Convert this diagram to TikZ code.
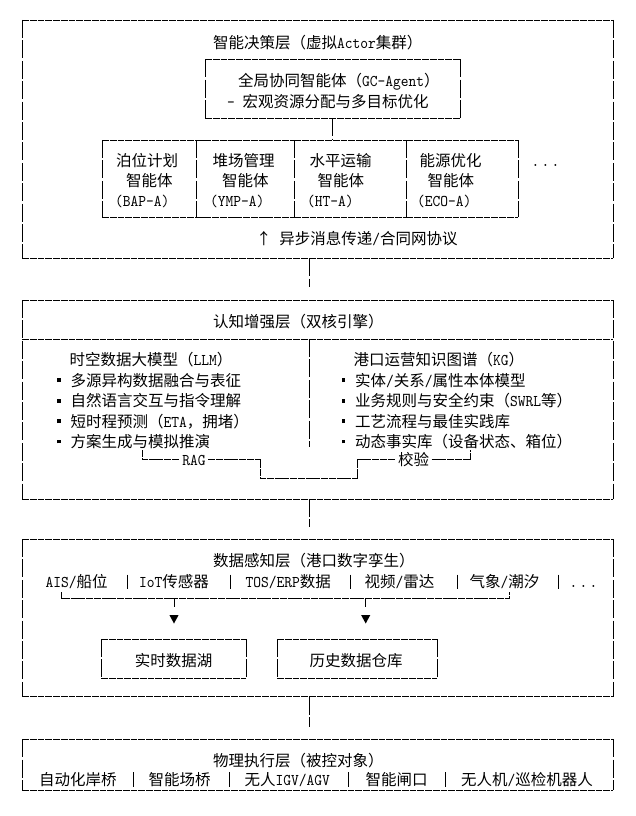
\documentclass[tikz,border=0pt]{standalone}
\usepackage{fontspec}
\setmainfont{Noto Sans CJK SC}
\newfontfamily\latf[FakeStretch=0.9]{lmmono10-regular.otf}
\usetikzlibrary{calc}
\newcommand\lat[1]{{\latf\fontsize{16.4pt}{18pt}\selectfont #1}}
\newcommand\hsp{\hspace{7.75pt}}
\newcommand\bul{\makebox[7.75pt]{\rule[4.1pt]{3.8pt}{3.8pt}}\hspace{7.75pt}}
\newcommand\tdots{\lat{.}\hspace{2.25pt}\lat{.}\hspace{2.25pt}\lat{.}}
\newcommand\frameit[1]{%
  \draw[hd] (#1.north west) -- (#1.north east) (#1.south west) -- (#1.south east);
  \draw[vd] (#1.north west) -- (#1.south west) (#1.north east) -- (#1.south east);}
\newcommand\mkbox[5]{%
  \node[bx, minimum width={#4-#2}, minimum height={#5-#3}] (#1) at ({(#2+#4)/2},{(#3+#5)/2}) {};
  \frameit{#1}}
\begin{document}
\begin{tikzpicture}[x=1pt,y=-1pt,
  hd/.style={line width=0.9pt, dash pattern=on 6.95pt off 0.8pt},
  vd/.style={line width=0.9pt, dash pattern=on 18pt off 2.4pt},
  sl/.style={line width=0.9pt},
  bx/.style={draw=none, inner sep=0pt, outer sep=0pt},
  txt/.style={inner sep=0pt, anchor=west, font=\fontsize{15.5pt}{18pt}\selectfont, text height=13pt, text depth=1.2pt},
  lbl/.style={txt, anchor=center, inner xsep=2.5pt}]
\useasboundingbox (0,0) rectangle (635,816);
\coordinate (cx) at (309.3,0);

% ---------- layer 1 ----------
\mkbox{L1}{22}{20}{613}{258.3}
\node[txt] (t1) at (213,42.7) {智能决策层（虚拟\lat{Actor}集群）};
\mkbox{GC}{205}{59.3}{460}{118.3}
\node[txt] (gc1) at (238,80.7) {全局协同智能体（\lat{GC-Agent}）};
\node[txt] (gc2) at (227,101.7) {\lat{-}\hsp 宏观资源分配与多目标优化};
\mkbox{A1}{102}{140}{196.7}{217}
\mkbox{A2}{196.7}{140}{294}{217}
\mkbox{A3}{294}{140}{406}{217}
\mkbox{A4}{406}{140}{518}{217}
\draw[vd] (GC.south) -- (GC.south |- A3.north);
\node[txt] (a11) at (116,160.5) {泊位计划};
\node[txt] (a12) at (126,181) {智能体};
\node[txt] (a13) at (115,200.5) {\lat{(BAP-A)}};
\node[txt] (a21) at (212.5,160.5) {堆场管理};
\node[txt] (a22) at (222,181) {智能体};
\node[txt] (a23) at (210,200.5) {\lat{(YMP-A)}};
\node[txt] (a31) at (309.5,160.5) {水平运输};
\node[txt] (a32) at (317.5,181) {智能体};
\node[txt] (a33) at (307,200.5) {\lat{(HT-A)}};
\node[txt] (a41) at (419.5,160.5) {能源优化};
\node[txt] (a42) at (427.5,181) {智能体};
\node[txt] (a43) at (417,200.5) {\lat{(ECO-A)}};
\node[txt] (adots) at (531.5,160.5) {\tdots};
\node[txt] (msg) at (256,238.3) {↑\hsp 异步消息传递\lat{/}合同网协议};

% ---------- layer 2 ----------
\mkbox{L2}{22}{300}{613}{499}
\draw[vd] (L1.south -| cx) -- ($(L2.north -| cx)+(0,-13)$);
\node[txt] (t2) at (213,321.7) {认知增强层（双核引擎）};
\coordinate (sep) at (0,339);
\coordinate (dvEnd) at (309.3,446.7);
\draw[hd] (L2.west |- sep) -- (L2.east |- sep);
\draw[vd] (sep -| cx) -- (dvEnd);
\node[txt] (llm) at (69.5,360) {时空数据大模型（\lat{LLM}）};
\node[txt] (l1) at (55,380.4) {\bul 多源异构数据融合与表征};
\node[txt] (l2) at (55,400.8) {\bul 自然语言交互与指令理解};
\node[txt] (l3) at (55,421.2) {\bul 短时程预测（\lat{ETA}，拥堵）};
\node[txt] (l4) at (55,441.6) {\bul 方案生成与模拟推演};
\node[txt] (kg) at (353.5,360) {港口运营知识图谱（\lat{KG}）};
\node[txt] (k1) at (339.5,380.4) {\bul 实体\lat{/}关系\lat{/}属性本体模型};
\node[txt] (k2) at (339.5,400.8) {\bul 业务规则与安全约束（\lat{SWRL}等）};
\node[txt] (k3) at (339.5,421.2) {\bul 工艺流程与最佳实践库};
\node[txt] (k4) at (339.5,441.6) {\bul 动态事实库（设备状态、箱位）};
\coordinate (r1) at (142.7,450);
\coordinate (r2) at (260.7,478.3);
\coordinate (r3) at (357.3,478.3);
\coordinate (r4) at (470.7,450);
\node[lbl] (rag) at (193.9,459.5) {\lat{RAG}};
\node[lbl] (jy) at (413.5,459.5) {校验};
\draw[hd] (r1) |- (rag.west);
\draw[hd] (rag.east) -| (r2) -- (r3) |- (jy.west);
\draw[hd] (jy.east) -| (r4);

% ---------- layer 3 ----------
\mkbox{L3}{22}{539}{613}{696.7}
\draw[vd] (L2.south -| cx) -- ($(L3.north -| cx)+(0,-12)$);
\node[txt] (t3) at (213,560.7) {数据感知层（港口数字孪生）};
\node[txt] (d1) at (45.5,581.7) {\lat{AIS/}船位};
\node[txt] (d2) at (139,581.7) {\lat{IoT}传感器};
\node[txt] (d3) at (245.5,581.7) {\lat{TOS/ERP}数据};
\node[txt] (d4) at (364.5,581.7) {视频\lat{/}雷达};
\node[txt] (d5) at (469.5,581.7) {气象\lat{/}潮汐};
\node[txt] (d6) at (569.5,581.7) {\tdots};
\foreach \x in {127.3,230.7,350.7,457.3,558.3}
  \draw[sl] (\x,574.5) -- (\x,589);
\coordinate (bL) at (61.7,592);
\coordinate (bR) at (509.3,592);
\coordinate (bY) at (0,598.5);
\draw[hd] (bL) -- (bL |- bY) -- (bR |- bY) -- (bR);
\mkbox{RT}{101}{639}{246}{678}
\mkbox{HS}{277}{639}{437}{678}
\node[txt, anchor=center] (rtt) at (173.7,660.2) {实时数据湖};
\node[txt, anchor=center] (hst) at (356,660.2) {历史数据仓库};
\foreach \x in {174,365.7}{
  \draw[sl] (\x,598.5) -- (\x,606.7);
  \fill (\x-4.6,615) -- (\x+4.6,615) -- (\x,623.5) -- cycle;}

% ---------- layer 4 ----------
\mkbox{L4}{22}{739.3}{613}{790}
\draw[vd] (L3.south -| cx) -- ($(L4.north -| cx)+(0,-12)$);
\node[txt] (t4) at (213,760.7) {物理执行层（被控对象）};
\node[txt] (p1) at (39,779.3) {自动化岸桥};
\node[txt] (p2) at (148.5,779.3) {智能场桥};
\node[txt] (p3) at (244.5,779.3) {无人\lat{IGV/AGV}};
\node[txt] (p4) at (365.5,779.3) {智能闸口};
\node[txt] (p5) at (461,779.3) {无人机\lat{/}巡检机器人};
\foreach \x in {133.6,229,348,445}
  \draw[sl] (\x,772) -- (\x,787);
\end{tikzpicture}
\end{document}
